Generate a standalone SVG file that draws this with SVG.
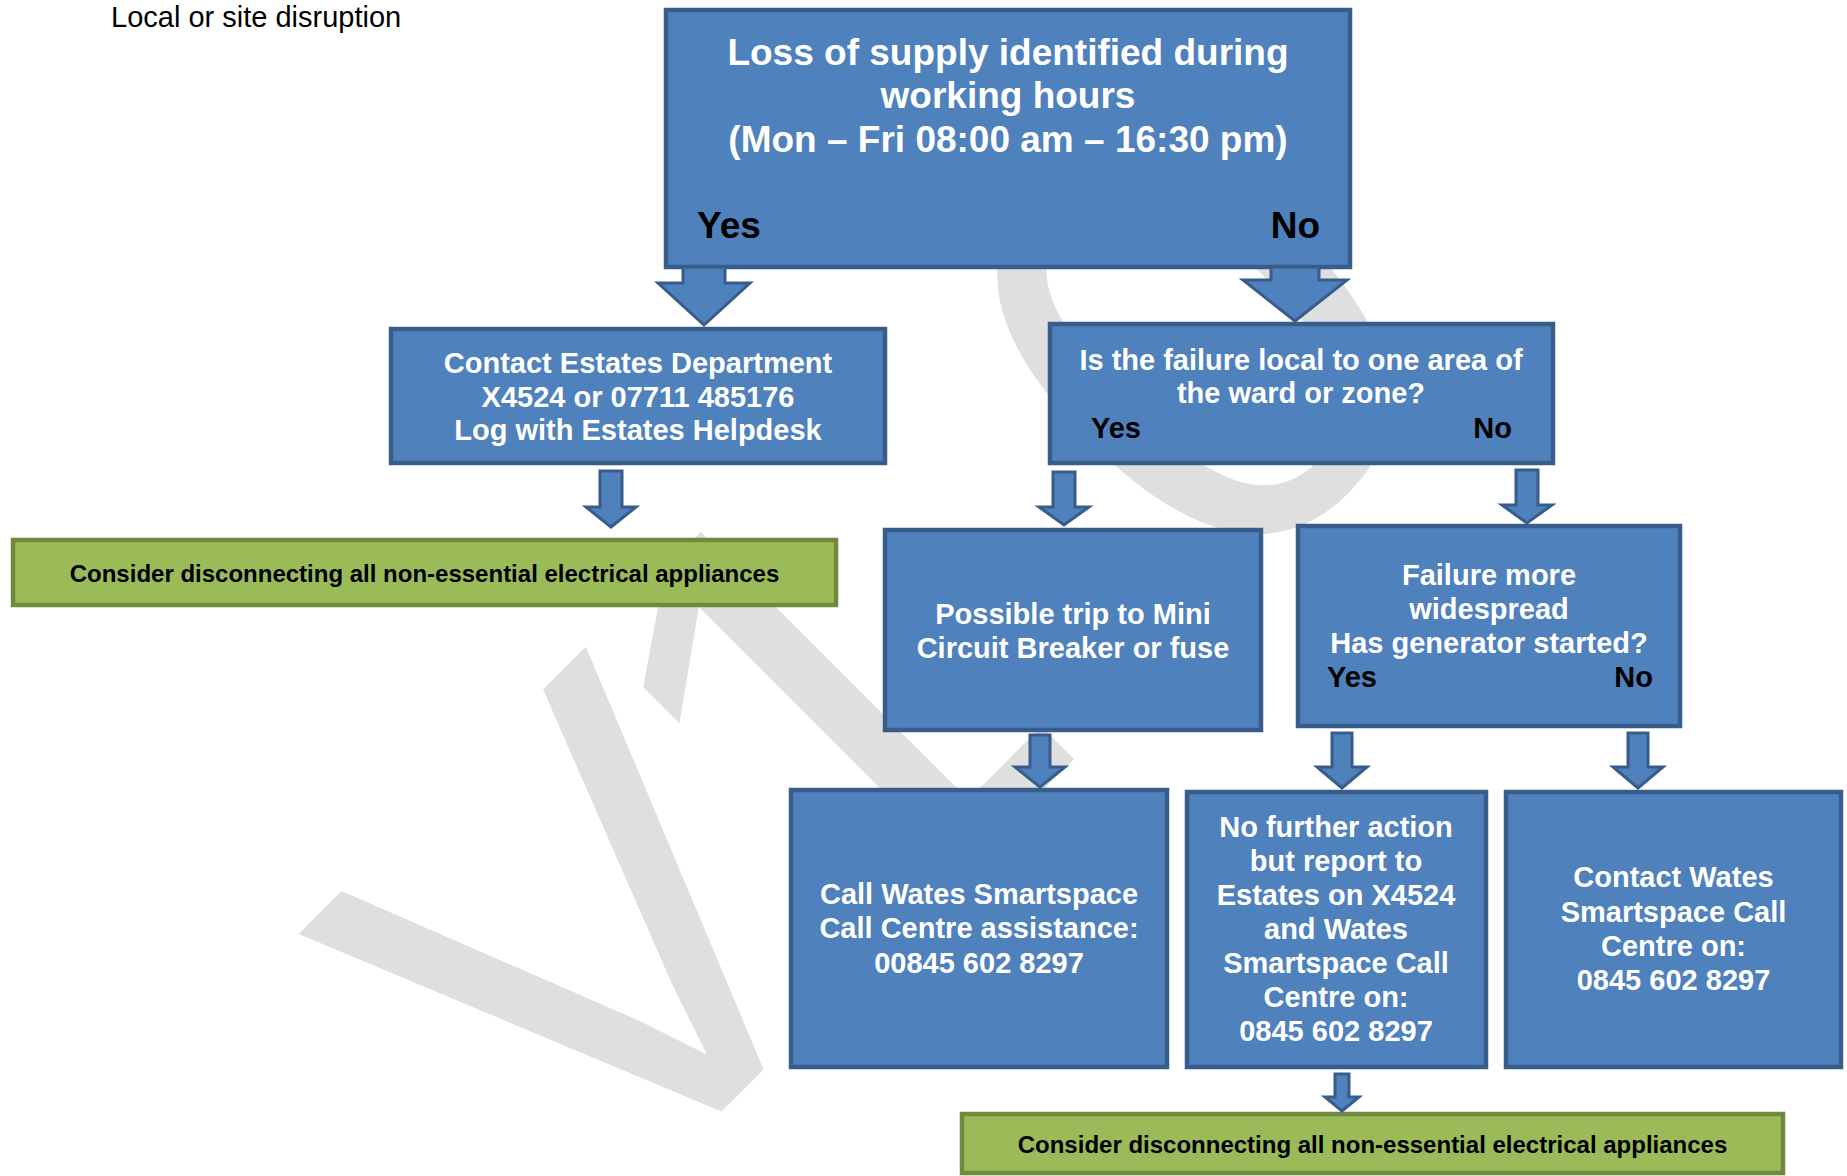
<svg xmlns="http://www.w3.org/2000/svg" width="1847" height="1176" viewBox="0 0 1847 1176">
<style>
.box{fill:#4F81BD;stroke:#385D8A;stroke-width:4.5}
.gbox{fill:#9BBB59;stroke:#71893F;stroke-width:4.5}
.arrow{fill:#4F81BD;stroke:#385D8A;stroke-width:3;stroke-linejoin:miter}
.t{font-family:"Liberation Sans",Arial,sans-serif;font-weight:bold;fill:#fff;font-size:29px;text-anchor:middle}
.big{font-size:37px}
.yn{fill:#000;text-anchor:start}
.end{text-anchor:end}
.g{fill:#000;font-size:24px}
.wm{font-family:"Liberation Sans",Arial,sans-serif;font-size:617px;fill:#dfdfdf}
</style>
<rect width="1847" height="1176" fill="#fff"/>
<g id="watermark">
<text class="wm" x="597" y="1236" transform="rotate(-45 597 1236)">V<tspan dx="-50">1</tspan><tspan dx="10">.0</tspan></text>
</g>
<text x="111" y="27" font-family="Liberation Sans, Arial, sans-serif" font-size="29" fill="#000">Local or site disruption</text>
<g id="n-start">
<rect class="box" x="666" y="10" width="684" height="257"/>
<text class="t big" x="1008" y="65">Loss of supply identified during</text>
<text class="t big" x="1008" y="108">working hours</text>
<text class="t big" x="1008" y="152">(Mon – Fri 08:00 am – 16:30 pm)</text>
<text class="t big yn" x="697" y="238">Yes</text>
<text class="t big yn end" x="1320" y="238">No</text>
</g>
<g id="n-estates">
<rect class="box" x="391" y="329" width="494" height="134"/>
<text class="t" x="638" y="373">Contact Estates Department</text>
<text class="t" x="638" y="407">X4524 or 07711 485176</text>
<text class="t" x="638" y="440">Log with Estates Helpdesk</text>
</g>
<g id="n-local">
<rect class="box" x="1050" y="324" width="503" height="139"/>
<text class="t" x="1301" y="370">Is the failure local to one area of</text>
<text class="t" x="1301" y="403">the ward or zone?</text>
<text class="t yn" x="1091" y="438">Yes</text>
<text class="t yn end" x="1512" y="438">No</text>
</g>
<g id="n-consider1">
<rect class="gbox" x="13" y="540" width="823" height="65"/>
<text class="t g" x="424.5" y="582">Consider disconnecting all non-essential electrical appliances</text>
</g>
<g id="n-trip">
<rect class="box" x="885" y="530" width="376" height="200"/>
<text class="t" x="1073" y="624">Possible trip to Mini</text>
<text class="t" x="1073" y="658">Circuit Breaker or fuse</text>
</g>
<g id="n-widespread">
<rect class="box" x="1298" y="526" width="382" height="200"/>
<text class="t" x="1489" y="585">Failure more</text>
<text class="t" x="1489" y="619">widespread</text>
<text class="t" x="1489" y="653">Has generator started?</text>
<text class="t yn" x="1327" y="687">Yes</text>
<text class="t yn end" x="1653" y="687">No</text>
</g>
<g id="n-callwates">
<rect class="box" x="791" y="790" width="376" height="277"/>
<text class="t" x="979" y="904">Call Wates Smartspace</text>
<text class="t" x="979" y="938">Call Centre assistance:</text>
<text class="t" x="979" y="973">00845 602 8297</text>
</g>
<g id="n-nofurther">
<rect class="box" x="1187" y="792" width="299" height="275"/>
<text class="t" x="1336" y="837">No further action</text>
<text class="t" x="1336" y="871">but report to</text>
<text class="t" x="1336" y="905">Estates on X4524</text>
<text class="t" x="1336" y="939">and Wates</text>
<text class="t" x="1336" y="973">Smartspace Call</text>
<text class="t" x="1336" y="1007">Centre on:</text>
<text class="t" x="1336" y="1041">0845 602 8297</text>
</g>
<g id="n-contactwates">
<rect class="box" x="1506" y="792" width="335" height="275"/>
<text class="t" x="1673.5" y="887">Contact Wates</text>
<text class="t" x="1673.5" y="922">Smartspace Call</text>
<text class="t" x="1673.5" y="956">Centre on:</text>
<text class="t" x="1673.5" y="990">0845 602 8297</text>
</g>
<g id="n-consider2">
<rect class="gbox" x="962" y="1114" width="821" height="59"/>
<text class="t g" x="1372.5" y="1153">Consider disconnecting all non-essential electrical appliances</text>
</g>
<g id="connectors">
<path class="arrow" d="M683,267 H725 V283 H750 L704,325 L658,283 H683 Z"/>
<path class="arrow" d="M1271,267 H1319 V280 H1347 L1295,321 L1243,280 H1271 Z"/>
<path class="arrow" d="M600,471 H622 V507 H636 L611,527 L586,507 H600 Z"/>
<path class="arrow" d="M1053,472 H1075 V507 H1089 L1064,525 L1039,507 H1053 Z"/>
<path class="arrow" d="M1516,470 H1538 V505 H1552 L1527,523 L1502,505 H1516 Z"/>
<path class="arrow" d="M1030,735 H1050 V767 H1065 L1040,787 L1015,767 H1030 Z"/>
<path class="arrow" d="M1332,733 H1352 V767 H1367 L1342,788 L1317,767 H1332 Z"/>
<path class="arrow" d="M1628,733 H1648 V767 H1663 L1638,788 L1613,767 H1628 Z"/>
<path class="arrow" d="M1335,1074 H1349 V1097 H1359 L1342,1111 L1325,1097 H1335 Z"/>
</g>
</svg>
